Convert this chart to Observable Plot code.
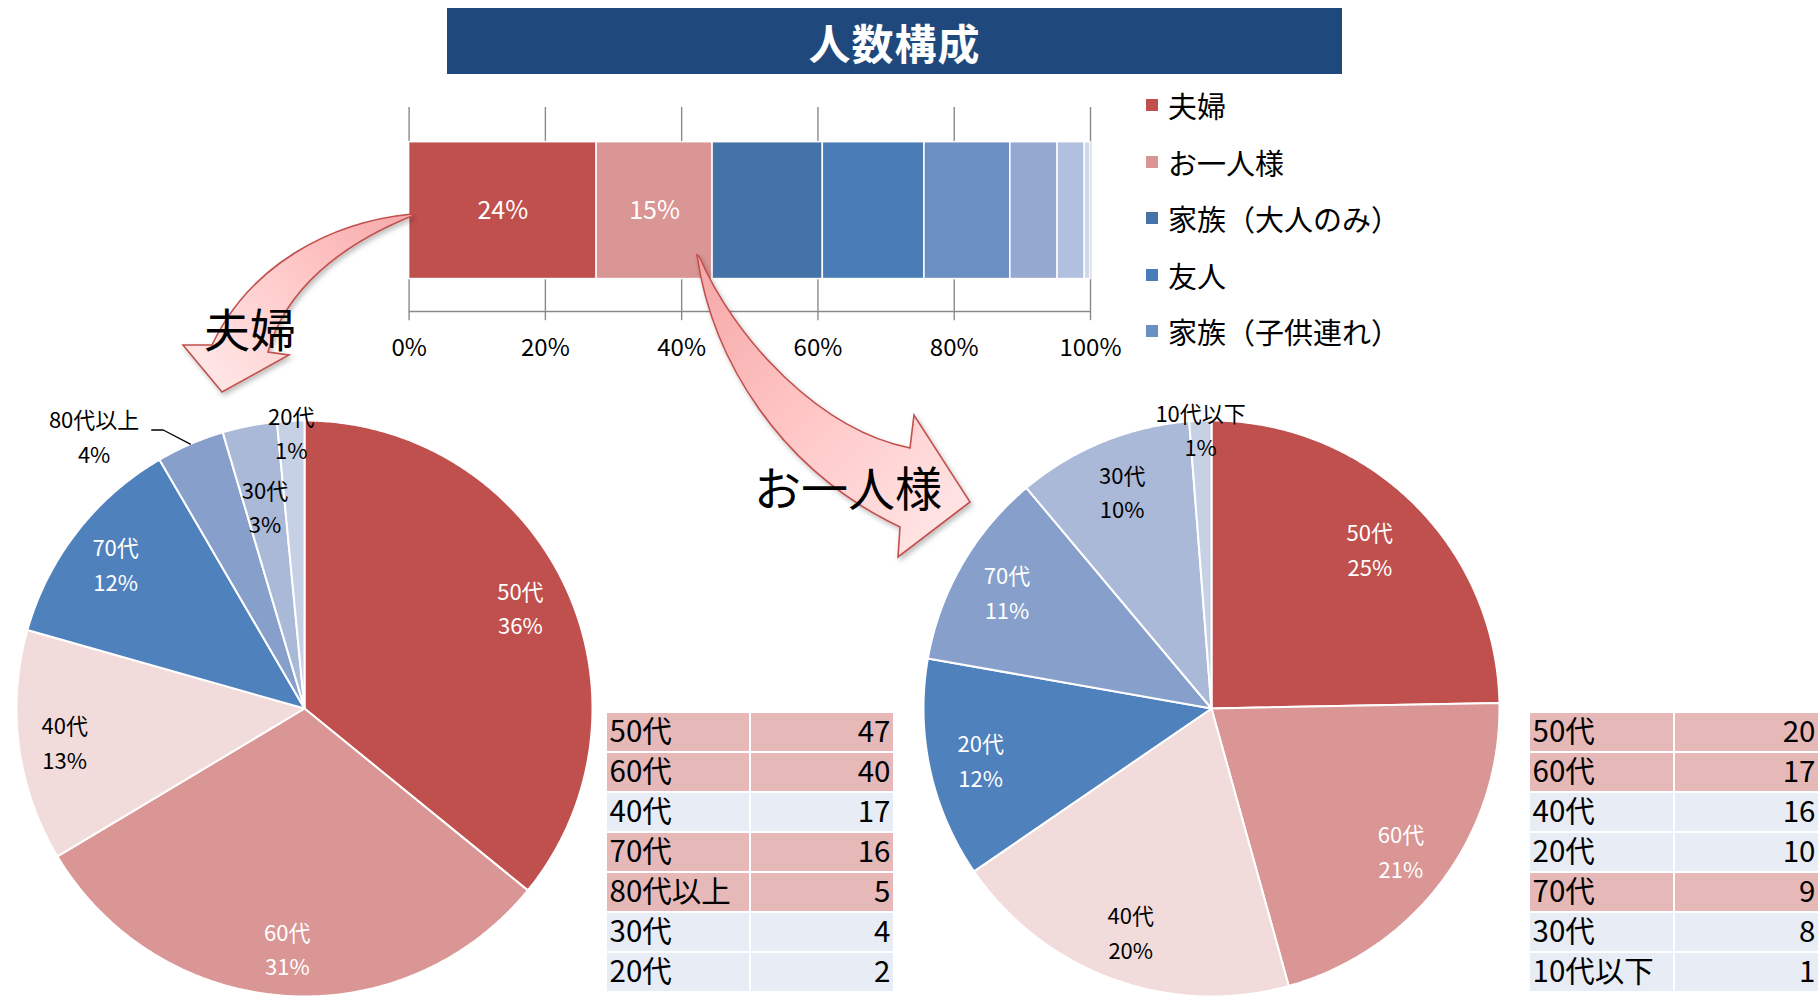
<!DOCTYPE html>
<html><head><meta charset="utf-8">
<script src="https://cdn.jsdelivr.net/npm/d3@7"></script>
<script src="https://cdn.jsdelivr.net/npm/@observablehq/plot@0.6"></script>
<style>
body{margin:0;background:#fff;font-family:"Noto Sans CJK JP","Noto Sans",sans-serif;}
#root{position:relative;width:1820px;height:998px;overflow:hidden;background:#fff;}
.abs{position:absolute;}
#title{left:447px;top:8px;width:895px;height:66px;background:#1F497D;color:#fff;font-size:42px;font-weight:bold;display:flex;align-items:center;justify-content:center;letter-spacing:1px;}
#legend{left:1146px;top:77px;width:300px;height:290px;}
.lg{position:absolute;left:0;height:40px;display:flex;align-items:center;font-size:29px;color:#000;white-space:nowrap;}
.lg span.sw{display:inline-block;width:12px;height:12px;margin-right:10px;}
svg{overflow:visible;}
</style></head>
<body><div id="root">
<div id="title" class="abs">人数構成</div>
<div id="bar" class="abs" style="left:380px;top:95px;"></div>
<div id="legend" class="abs"></div>
<div id="pieL" class="abs" style="left:0px;top:380px;"></div>
<div id="pieR" class="abs" style="left:900px;top:380px;"></div>
<div id="tabL" class="abs" style="left:600px;top:705px;"></div>
<div id="tabR" class="abs" style="left:1523px;top:705px;"></div>
<div id="over" class="abs" style="left:0;top:0;pointer-events:none;"></div>
</div>
<script>
// ---------------- data ----------------
const groupNames = ["夫婦", "お一人様", "家族（大人のみ）", "友人", "家族（子供連れ）", "その他A", "その他B", "その他C"];
const groupCounts = [131, 81, 77, 71, 60, 33, 19, 4];
const groupLabels = ["24%", "15%", null, null, null, null, null, null];
const legendNames = ["夫婦", "お一人様", "家族（大人のみ）", "友人", "家族（子供連れ）"];
const axisTicks = [0, 0.2, 0.4, 0.6, 0.8, 1];

const coupleAges = ["50代", "60代", "40代", "70代", "80代以上", "30代", "20代"];
const coupleCounts = [47, 40, 17, 16, 5, 4, 2];
const couplePct = [36, 31, 13, 12, 4, 3, 1];

const soloAges = ["50代", "60代", "40代", "20代", "70代", "30代", "10代以下"];
const soloCounts = [20, 17, 16, 10, 9, 8, 1];
const soloPct = [25, 21, 20, 12, 11, 10, 1];

// ---------------- styles ----------------
const FONT = '"Noto Sans CJK JP","Noto Sans",sans-serif';
const groupColors = ["#C0504D", "#D99694", "#4572A7", "#4A7DB8", "#6B8FC3", "#95A9D0", "#B0C0DE", "#D0D9EC"];
const piePalette = ["#C0504D", "#D99694", "#F2DCDB", "#4F81BD", "#86A0CB", "#AAB9D8", "#C6D1E6"];
const pieTextColor = ["#fff", "#fff", "#000", "#fff", "#fff", "#000", "#000"];
const PINK = "#E6B9B8", BLUE = "#E8ECF4";
const baseStyle = {fontFamily: FONT, background: "transparent", overflow: "visible", color: "#000"};

// ---------------- stacked bar ----------------
const barData = groupNames.map((name, i) => ({name, value: groupCounts[i], label: groupLabels[i], color: groupColors[i]}));
const barPlot = Plot.plot({
  width: 740, height: 280,
  style: baseStyle,
  x: {domain: [0, 1], range: [28.6, 710], axis: null},
  y: {domain: [0, 1], range: [216, 12], axis: null},
  color: {type: "identity"},
  marks: [
    Plot.ruleX(axisTicks, {x: d => d, y1: -0.045, y2: 1, stroke: "#8a8a8a", strokeWidth: 1.4}),
    Plot.ruleY([0], {x1: 0, x2: 1, stroke: "#8a8a8a", strokeWidth: 1.4}),
    Plot.rectX(barData, {x: "value", y1: 0.159, y2: 0.830, fill: "color", stroke: "#fff", strokeWidth: 1.5, offset: "normalize"}),
    Plot.text(barData, Plot.stackX({x: "value", y: 0.4945, text: "label", offset: "normalize", fill: "#fff", fontSize: 25})),
    Plot.text(axisTicks, {x: d => d, y: 0, dy: 37, text: d => Math.round(d * 100) + "%", fontSize: 24, fill: "#000"})
  ]
});
document.getElementById("bar").append(barPlot);

// legend
const lg = document.getElementById("legend");
legendNames.forEach((n, i) => {
  const row = document.createElement("div");
  row.className = "lg";
  row.style.top = (8 + i * 56.5) + "px";
  row.innerHTML = `<span class="sw" style="background:${groupColors[i]}"></span>${n}`;
  lg.append(row);
});

// ---------------- pies ----------------
function piePlot(names, counts, pcts, place, defR, cx, cy, R, width, leader) {
  const arcs = d3.pie().sort(null).value(d => d)(counts);
  const pts = [];
  arcs.forEach((a, i) => {
    const n = Math.max(2, Math.ceil((a.endAngle - a.startAngle) / (Math.PI / 360)));
    pts.push({k: i, x: 0, y: 0, c: piePalette[i]});
    for (let j = 0; j <= n; j++) {
      const t = a.startAngle + (a.endAngle - a.startAngle) * j / n;
      pts.push({k: i, x: Math.sin(t), y: -Math.cos(t), c: piePalette[i]});
    }
  });
  const labels = arcs.map((a, i) => {
    const p = place[names[i]] || {};
    const ang = p.a != null ? p.a * Math.PI / 180 : (a.startAngle + a.endAngle) / 2;
    const r = p.r != null ? p.r : defR;
    return {x: r * Math.sin(ang), y: -r * Math.cos(ang), text: names[i] + "\n" + pcts[i] + "%",
            fill: r > 1.05 ? "#000" : pieTextColor[i], mid: (a.startAngle + a.endAngle) / 2, name: names[i]};
  });
  const marks = [
    Plot.line(pts, {x: "x", y: "y", z: "k", fill: "c", stroke: "#fff", strokeWidth: 2, curve: "linear-closed"}),
    Plot.text(labels, {x: "x", y: "y", text: "text", fill: "fill", fontSize: 22, lineHeight: 1.58})
  ];
  if (leader) {
    const L = labels.find(d => d.name === leader);
    const line = [
      {x: Math.sin(L.mid), y: -Math.cos(L.mid)},
      {x: L.x + 0.24, y: L.y - 0.015},
      {x: L.x + 0.2, y: L.y - 0.015}
    ];
    marks.push(Plot.line(line, {x: "x", y: "y", stroke: "#000", strokeWidth: 1.3}));
  }
  return Plot.plot({
    width, height: 618, style: baseStyle,
    x: {domain: [-1, 1], range: [cx - R, cx + R], axis: null},
    y: {domain: [-1, 1], range: [cy - R, cy + R], axis: null},
    color: {type: "identity"},
    marks
  });
}
const leftPlace = {"40代": {r: 0.84}, "80代以上": {r: 1.2, a: 322.5}, "30代": {r: 0.72}, "20代": {r: 0.965}};
const rightPlace = {"50代": {r: 0.785}, "10代以下": {r: 0.975}};
document.getElementById("pieL").append(piePlot(coupleAges, coupleCounts, couplePct, leftPlace, 0.83, 304, 328, 288, 620, "80代以上"));
document.getElementById("pieR").append(piePlot(soloAges, soloCounts, soloPct, rightPlace, 0.82, 311, 328, 288, 620, null));

// ---------------- tables ----------------
function tablePlot(names, counts, width, x0, x1) {
  const rows = names.map((n, i) => ({i, n, v: counts[i], bg: parseInt(n) >= 50 ? PINK : BLUE}));
  const cells = rows.flatMap(r => [{row: r.i, col: "name", bg: r.bg}, {row: r.i, col: "value", bg: r.bg}]);
  const xs = {domain: ["name", "value"], range: [x0, x1], paddingInner: 0.015, paddingOuter: 0};
  const bw = d3.scaleBand().domain(xs.domain).range(xs.range).paddingInner(xs.paddingInner).paddingOuter(0).bandwidth();
  return Plot.plot({
    width, height: 293, style: baseStyle,
    x: {type: "band", ...xs, axis: null},
    y: {type: "band", domain: d3.range(names.length), range: [6, 288], paddingInner: 0.062, paddingOuter: 0, axis: null},
    color: {type: "identity"},
    marks: [
      Plot.cell(cells, {x: "col", y: "row", fill: "bg"}),
      Plot.text(rows, {x: () => "name", y: "i", text: "n", textAnchor: "start", dx: -bw / 2 + 2, fontSize: 29.5, fill: "#000"}),
      Plot.text(rows, {x: () => "value", y: "i", text: "v", textAnchor: "end", dx: bw / 2 - 3, fontSize: 29.5, fill: "#000"})
    ]
  });
}
document.getElementById("tabL").append(tablePlot(coupleAges, coupleCounts, 300, 7, 293));
document.getElementById("tabR").append(tablePlot(soloAges, soloCounts, 297, 7, 295));

// ---------------- decorative arrows ----------------
document.getElementById("over").innerHTML = `
<svg width="1820" height="998" xmlns="http://www.w3.org/2000/svg" style="font-family:${FONT}">
 <defs>
  <linearGradient id="gL" gradientUnits="userSpaceOnUse" x1="410" y1="215" x2="222" y2="392">
   <stop offset="0" stop-color="#F7A9A9"/><stop offset="0.5" stop-color="#FFC9C9"/><stop offset="1" stop-color="#FFE6E6"/>
  </linearGradient>
  <linearGradient id="gR" gradientUnits="userSpaceOnUse" x1="697" y1="255" x2="970" y2="520">
   <stop offset="0" stop-color="#F5A6A6"/><stop offset="0.5" stop-color="#FFC6C6"/><stop offset="1" stop-color="#FFE6E6"/>
  </linearGradient>
  <filter id="sh" x="-20%" y="-20%" width="140%" height="140%">
   <feDropShadow dx="2" dy="3" stdDeviation="2.5" flood-color="#000" flood-opacity="0.25"/>
  </filter>
 </defs>
 <path filter="url(#sh)" fill="url(#gL)" stroke="#C0504D" stroke-width="1.6" stroke-linejoin="miter"
   d="M412 214 C330 222 250 265 212 345 L183 345 L222 392 L289 355 L268 352 C285 290 340 245 412 216 Z"/>
 <path filter="url(#sh)" fill="url(#gR)" stroke="#C0504D" stroke-width="1.6" stroke-linejoin="miter"
   d="M697 255 C712 360 780 470 900 527 L898 557 L970 502 L914 415 L910 448 C820 430 735 340 699 256 Z"/>
 <text x="250" y="327" text-anchor="middle" dominant-baseline="central" font-size="46" fill="#000">夫婦</text>
 <text x="848" y="485" text-anchor="middle" dominant-baseline="central" font-size="47" fill="#000">お一人様</text>
</svg>`;
</script>
</body></html>
